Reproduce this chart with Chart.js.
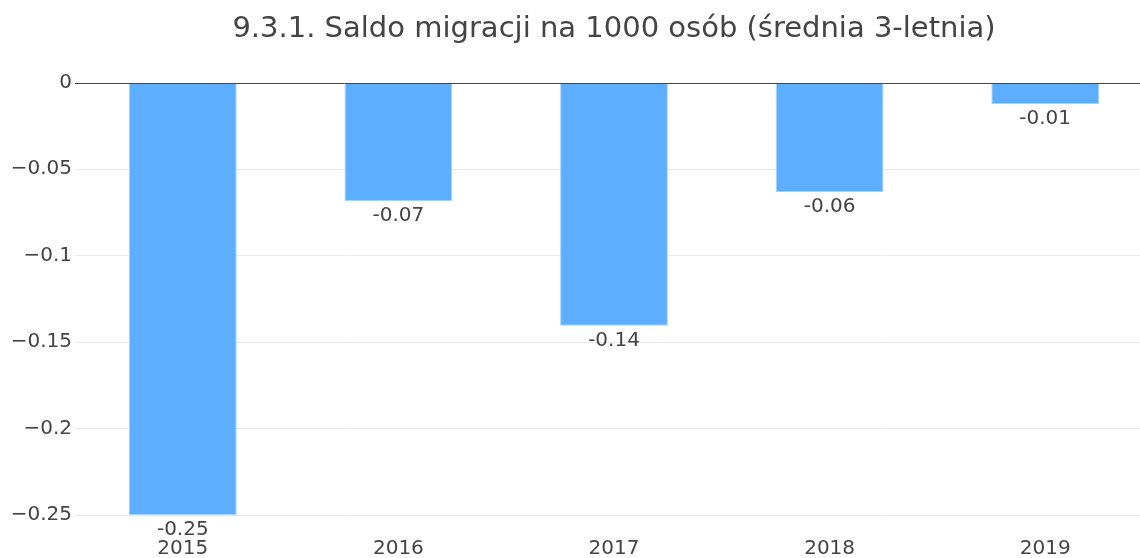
<!DOCTYPE html>
<html>
<head>
<meta charset="utf-8">
<script src="https://cdn.jsdelivr.net/npm/chart.js@4/dist/chart.umd.min.js"></script>
<style>
html,body{margin:0;padding:0;overflow:hidden;background:#fff;width:1140px;height:558px;}
#wrap{position:absolute;left:0;top:0;width:1228px;height:558px;}
</style>
</head>
<body>
<div id="wrap"><canvas id="c" width="1228" height="558"></canvas></div>
<script>
const titleText = '9.3.1. Saldo migracji na 1000 osób (średnia 3-letnia)';
const categories = ['2015', '2016', '2017', '2018', '2019'];
const values = [-0.25, -0.0683, -0.1406, -0.0631, -0.0122];
const valueLabels = ['-0.25', '-0.07', '-0.14', '-0.06', '-0.01'];
const yTickValues = [0, -0.05, -0.1, -0.15, -0.2, -0.25];
const yTickLabels = ['0', '\u22120.05', '\u22120.1', '\u22120.15', '\u22120.2', '\u22120.25'];

const FONT = "'DejaVu Sans', Verdana, sans-serif";
const TEXT = '#444';

const valueLabelPlugin = {
  id: 'valueLabels',
  afterDatasetsDraw(chart) {
    const ctx = chart.ctx;
    const yScale = chart.scales.y;
    const area = chart.chartArea;
    const y0 = Math.round(yScale.getPixelForValue(0)) + 0.5;
    ctx.save();
    ctx.strokeStyle = TEXT;
    ctx.lineWidth = 1;
    ctx.beginPath();
    ctx.moveTo(area.left, y0);
    ctx.lineTo(area.right, y0);
    ctx.stroke();
    ctx.fillStyle = TEXT;
    ctx.font = '20px ' + FONT;
    ctx.textAlign = 'center';
    ctx.textBaseline = 'middle';
    chart.getDatasetMeta(0).data.forEach((el, i) => {
      ctx.fillText(valueLabels[i], el.x, el.y + 15);
    });
    ctx.restore();
  }
};

new Chart(document.getElementById('c'), {
  type: 'bar',
  data: {
    labels: categories,
    datasets: [{
      data: values,
      backgroundColor: '#5eaeff',
      borderColor: '#a6d0ff',
      borderWidth: 1,
      borderSkipped: 'start',
      barPercentage: 0.5,
      categoryPercentage: 1.0
    }]
  },
  options: {
    responsive: false,
    animation: false,
    layout: { padding: { left: 0, right: 75, top: 0, bottom: 0 } },
    plugins: {
      legend: { display: false },
      tooltip: { enabled: false },
      title: {
        display: true,
        fullSize: false,
        text: titleText,
        color: TEXT,
        font: { family: FONT, size: 29, weight: 'normal' },
        padding: { top: 12, bottom: 36 }
      }
    },
    scales: {
      x: {
        grid: { display: false, drawTicks: false },
        border: { display: false },
        ticks: { color: TEXT, font: { family: FONT, size: 20 }, padding: 22, maxRotation: 0 },
        afterFit(s) { s.height = 43; }
      },
      y: {
        min: -0.25,
        max: 0,
        afterBuildTicks(s) { s.ticks = yTickValues.map(v => ({ value: v })); },
        grid: {
          drawTicks: false,
          color: c => (c.tick && c.tick.value === 0) ? 'rgba(0,0,0,0)' : '#e9e9e9',
          lineWidth: 1
        },
        border: { display: false },
        ticks: {
          color: TEXT,
          font: { family: FONT, size: 20 },
          padding: 3,
          callback: (v, i) => yTickLabels[i]
        },
        afterFit(s) { s.width = 75; }
      }
    }
  },
  plugins: [valueLabelPlugin]
});
</script>
</body>
</html>
